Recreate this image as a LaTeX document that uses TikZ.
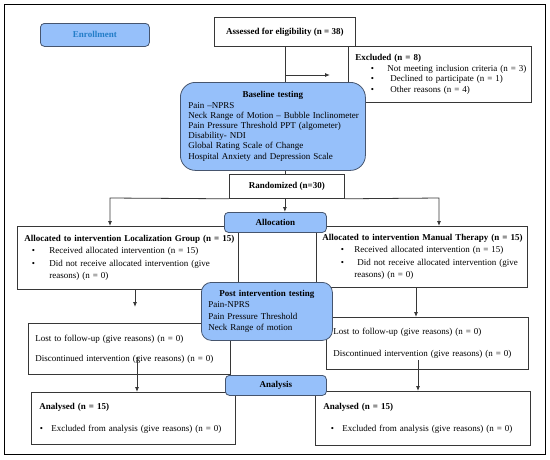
\documentclass[tikz,border=0pt]{standalone}
\usepackage{fontspec}
\setmainfont{Liberation Serif}
\usetikzlibrary{arrows.meta}
\definecolor{bfill}{RGB}{150,192,250}
\definecolor{bdraw}{RGB}{70,85,110}
\definecolor{etext}{RGB}{35,125,200}
\definecolor{lcol}{RGB}{55,55,55}
\newcommand\bl[3]{\mbox{\hspace*{#1}\makebox[0pt][c]{\textbullet}\hspace*{\dimexpr#2-#1\relax}#3}}
\begin{document}
\begin{tikzpicture}[x=1pt,y=-1pt,
  box/.style={draw=lcol, line width=0.8pt, fill=white, anchor=north west, inner ysep=0pt, align=left, font=\fontsize{9}{11}\selectfont},
  bbox/.style={box, draw=bdraw, fill=bfill},
  boldf/.style={font=\fontsize{9}{11}\selectfont\bfseries},
  arr/.style={draw=lcol, line width=0.8pt, -{Latex[length=5pt,width=4pt]}},
  ln/.style={draw=lcol, line width=0.8pt}]
\useasboundingbox (0,0) rectangle (550,459);
\draw[line width=1.6pt] (4.5,4.5) rectangle (545.5,454.5);

\node[bbox, boldf, text=etext, rounded corners=4pt, minimum width=109pt, minimum height=23pt] (enroll) at (40,23) {Enrollment};
\node[box, boldf, minimum width=141pt, minimum height=29pt] (assess) at (214,17) {Assessed for eligibility (n = 38)};
\node[box, inner xsep=7pt, text width=169pt, minimum height=56pt, font=\fontsize{9}{10.8}\selectfont] (excl) at (348,46)
  {\textbf{Excluded (n = 8)}\\
   \bl{17pt}{32pt}{Not meeting inclusion criteria (n = 3)}\\
   \bl{17pt}{35pt}{Declined to participate (n = 1)}\\
   \bl{17pt}{35pt}{Other reasons (n = 4)}};

\coordinate (exend) at (330,75);
\draw[ln] (assess.south) -- (assess.south |- 0,82);
\draw[arr] (assess.south |- exend) -- (exend);

\node[bbox, rounded corners=15pt, inner xsep=8pt, text width=169pt, minimum height=88pt, font=\fontsize{9}{10.2}\selectfont] (base) at (180,82)
  {\makebox[169pt][c]{\textbf{Baseline testing}}\\
   Pain –NPRS\\
   \mbox{Neck Range of Motion – Bubble Inclinometer}\\
   \mbox{Pain Pressure Threshold PPT (algometer)}\\
   Disability- NDI\\
   Global Rating Scale of Change\\
   \mbox{Hospital Anxiety and Depression Scale}};

\node[box, boldf, minimum width=115pt, minimum height=24pt] (rand) at (229,174) {Randomized (n=30)};
\draw[ln] (assess.south |- base.south) -- (assess.south |- rand.north);

\coordinate (rl) at (110,198);
\coordinate (rr) at (439,198);
\draw[arr] (rand.south west) -- (rl) -- (rl |- 0,226);
\draw[arr] (rand.south east) -- (rr) -- (rr |- 0,226);
\draw[arr] (assess.south |- rand.south) -- (assess.south |- 0,212);

\node[box, inner xsep=7pt, text width=207pt, minimum height=63pt, font=\fontsize{9}{12.3}\selectfont] (allocL) at (17,226)
  {\mbox{\textbf{Allocated to intervention Localization Group (n = 15)}}\\
   \bl{9pt}{25pt}{Received allocated intervention (n = 15)}\\
   \bl{9pt}{25pt}{Did not receive allocated intervention (give}\\
   \mbox{\hspace*{25pt}reasons) (n = 0)}};
\node[box, inner xsep=6pt, text width=199pt, minimum height=61pt, font=\fontsize{9}{12.3}\selectfont] (allocR) at (316,226)
  {\mbox{\textbf{Allocated to intervention Manual Therapy (n = 15)}}\\
   \bl{20pt}{32pt}{Received allocated intervention (n = 15)}\\
   \bl{20pt}{35pt}{Did not receive allocated intervention (give}\\
   \mbox{\hspace*{32pt}reasons) (n = 0)}};
\node[bbox, boldf, rounded corners=4pt, minimum width=102pt, minimum height=20pt] (alloc) at (224,212) {Allocation};

\node[box, inner xsep=7pt, text width=188pt, minimum height=51pt] (lostL) at (28,323)
  {\mbox{Lost to follow-up (give reasons) (n = 0)}\\[9pt]
   \mbox{Discontinued intervention (give reasons) (n = 0)}};
\node[box, inner xsep=7pt, text width=188pt, minimum height=52pt] (lostR) at (326,317)
  {\mbox{Lost to follow-up (give reasons) (n = 0)}\\[11pt]
   \mbox{Discontinued intervention (give reasons) (n = 0)}};

\coordinate (dl) at (135,307);
\coordinate (dr) at (416,317);
\draw[arr] (dl |- allocL.south) -- (dl);
\draw[arr] (dr |- allocR.south) -- (dr |- lostR.north);

\node[bbox, rounded corners=10pt, inner xsep=7pt, text width=117pt, minimum height=58pt, font=\fontsize{9}{11.3}\selectfont] (post) at (201,282)
  {\makebox[117pt][c]{\textbf{Post intervention testing}}\\
   Pain-NPRS\\
   Pain Pressure Threshold\\
   Neck Range of motion};

\coordinate (el) at (137,357);
\coordinate (er) at (418,360);
\draw[arr] (el) -- (el |- 0,392);
\draw[arr] (er) -- (er |- 0,391);

\node[box, inner xsep=8pt, text width=188pt, minimum height=52pt] (anaL) at (31,392)
  {\textbf{Analysed (n = 15)}\\[11pt]
   \bl{2pt}{12pt}{Excluded from analysis (give reasons) (n = 0)}};
\node[box, inner xsep=8pt, text width=199pt, minimum height=54pt] (anaR) at (315,391)
  {\textbf{Analysed (n = 15)}\\[11pt]
   \bl{9pt}{19pt}{Excluded from analysis (give reasons) (n = 0)}};
\node[bbox, boldf, rounded corners=4pt, minimum width=101pt, minimum height=20pt] (analysis) at (225,375) {Analysis};
\end{tikzpicture}
\end{document}
